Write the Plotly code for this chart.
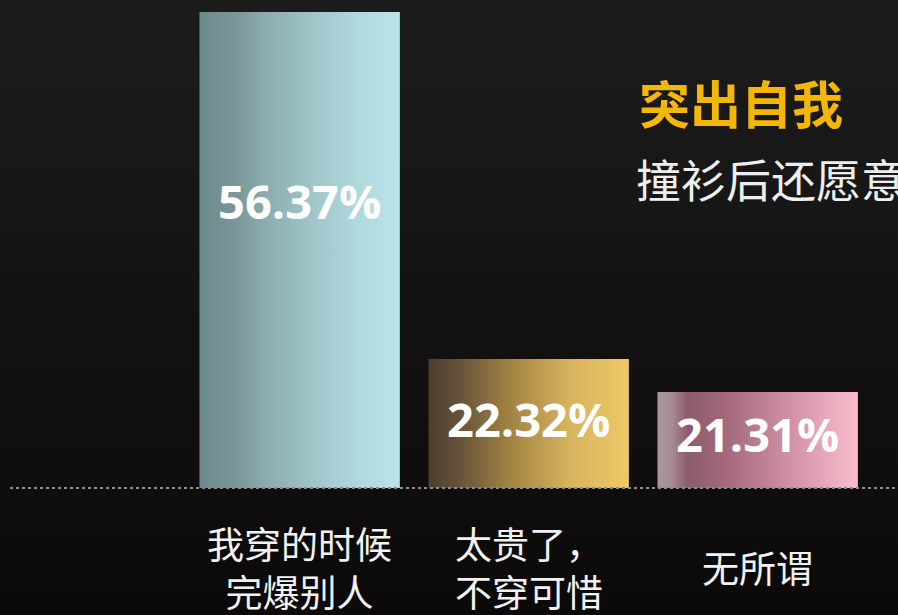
import plotly.graph_objects as go

# ---- data ----
categories = ["我穿的时候<br>完爆别人", "太贵了，<br>不穿可惜", "无所谓"]
values = [56.37, 22.32, 21.31]            # percentages printed on the bars
drawn_heights = [56.37, 15.28, 11.37]     # bar heights as drawn in the picture (same units)
value_labels = [f"{v:.2f}%" for v in values]
title_text = "突出自我"
subtitle_text = "撞衫后还愿意"

# ---- styles ----
bar_gradients = [
    [[0, "#6c8a8c"], [0.18, "#7a9597"], [0.3, "#88a8ac"], [0.55, "#9fc4c8"], [0.8, "#b0d9de"], [1, "#bae4e9"]],
    [[0, "#4b3e2d"], [0.15, "#65513a"], [0.4, "#a08242"], [0.7, "#d6b35e"], [1, "#efc866"]],
    [[0, "#a8989e"], [0.07, "#a88c95"], [0.15, "#8c5c6a"], [0.35, "#a46a7c"], [0.65, "#d08fa4"], [1, "#f8bdcc"]],
]
label_frac = [0.59, 0.49, 0.5]
bar_w = 0.875

W, H = 898, 615
x_range = [-1.3085, 2.6127]
y_range = [-15.04, 57.79]

fig = go.Figure()

# background gradient
fig.add_trace(go.Scatter(
    x=[x_range[0], x_range[1], x_range[1], x_range[0], x_range[0]],
    y=[y_range[0], y_range[0], y_range[1], y_range[1], y_range[0]],
    fill="toself", mode="lines", line=dict(width=0, color="rgba(0,0,0,0)"),
    fillgradient=dict(type="vertical",
                      colorscale=[[0, "#0b0909"], [0.3, "#100e0e"], [0.7, "#171717"], [1, "#1c1c1c"]]),
    hoverinfo="skip", showlegend=False))

# bars
for i, h in enumerate(drawn_heights):
    x0, x1 = i - bar_w / 2, i + bar_w / 2
    fig.add_trace(go.Scatter(
        x=[x0, x1, x1, x0, x0], y=[0, 0, h, h, 0],
        fill="toself", mode="lines", line=dict(width=0, color="rgba(0,0,0,0)"),
        fillgradient=dict(type="horizontal", colorscale=bar_gradients[i]),
        hoverinfo="skip", showlegend=False))

# value labels
fig.add_trace(go.Scatter(
    x=list(range(len(values))),
    y=[h * f for h, f in zip(drawn_heights, label_frac)],
    mode="text", text=value_labels,
    textfont=dict(family="Open Sans", size=47, color="#ffffff", weight="bold"),
    textposition="middle center", hoverinfo="skip", showlegend=False))

annotations = []
for i, c in enumerate(categories):
    annotations.append(dict(
        x=i, y=-9.4, xref="x", yref="y", text=c, showarrow=False,
        xanchor="center", yanchor="middle", align="center",
        font=dict(family="Noto Sans CJK SC", size=37, color="#f2f2f2")))

annotations.append(dict(
    x=637 / W, y=1 - 102 / H, xref="paper", yref="paper", text=title_text, showarrow=False,
    xanchor="left", yanchor="middle",
    font=dict(family="Noto Sans CJK SC", size=51, color="#f5b705", weight="bold")))
annotations.append(dict(
    x=634 / W, y=1 - 178 / H, xref="paper", yref="paper", text=subtitle_text, showarrow=False,
    xanchor="left", yanchor="middle",
    font=dict(family="Noto Sans CJK SC", size=45, color="#eeeeee")))

fig.update_layout(
    width=W, height=H, autosize=False,
    margin=dict(l=0, r=0, t=0, b=0, pad=0),
    paper_bgcolor="#121212", plot_bgcolor="#121212",
    xaxis=dict(range=x_range, visible=False, fixedrange=True),
    yaxis=dict(range=y_range, visible=False, fixedrange=True),
    annotations=annotations,
    shapes=[dict(type="line", xref="paper", yref="y", x0=10 / W, x1=1, y0=0, y1=0,
                 line=dict(color="#8c8c8c", width=2, dash="dot"), layer="above")],
    showlegend=False,
)

fig.write_html(
    "out.html",
    config={"displayModeBar": False},
    post_script="document.body.style.margin='0';document.body.style.overflow='hidden';",
)
